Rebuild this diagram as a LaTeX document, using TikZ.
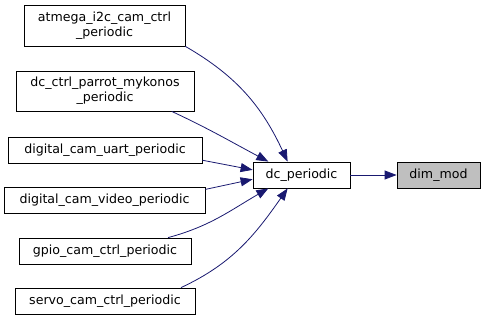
\documentclass[tikz,border=0pt]{standalone}
\usepackage{fontspec}
\setmainfont{DejaVu Sans}
\usetikzlibrary{arrows.meta}
\definecolor{callblue}{HTML}{191970}
\definecolor{curgray}{HTML}{BFBFBF}
\tikzset{
  fn/.style={draw, rectangle, line width=0.8pt, inner sep=0pt, align=center,
    minimum height=26, font=\fontsize{12.6}{15}\selectfont},
  call/.style={draw=callblue, line width=0.8pt, -{Triangle[length=12pt,width=9pt]}}
}
\begin{document}
\begin{tikzpicture}[x=1pt, y=-1pt]
\useasboundingbox (0,0) rectangle (485,321);
% callers on the left
\node[fn, minimum width=161, minimum height=41] (atmega) at (104.5,25.5) {atmega\_i2c\_cam\_ctrl\\\_periodic};
\node[fn, minimum width=178, minimum height=40] (parrot) at (105,91) {dc\_ctrl\_parrot\_mykonos\\\_periodic};
\node[fn, minimum width=194] (uart) at (105,150) {digital\_cam\_uart\_periodic};
\node[fn, minimum width=201] (video) at (104.5,200) {digital\_cam\_video\_periodic};
\node[fn, minimum width=172] (gpio) at (105,251) {gpio\_cam\_ctrl\_periodic};
\node[fn, minimum width=180] (servo) at (105,301) {servo\_cam\_ctrl\_periodic};
% the periodic task and the function it calls
\node[fn, minimum width=97] (dc) at (301.5,175) {dc\_periodic};
\node[fn, minimum width=83, fill=curgray] (dim) at (438.5,175) {dim\_mod};
\draw[call] (atmega.south east) to[out=-30, in=115] (dc.136);
\draw[call] (parrot.-17) to[out=-25, in=152] (dc.158);
\draw[call] (uart.-6) -- (dc.174);
\draw[call] (video.6) -- (dc.185);
\draw[call] (gpio.12) to[out=15, in=210] (dc.202);
\draw[call] (servo.10) to[out=25, in=235] (dc.224);
\draw[call] (dc.east) -- (dim.west);
\end{tikzpicture}
\end{document}
